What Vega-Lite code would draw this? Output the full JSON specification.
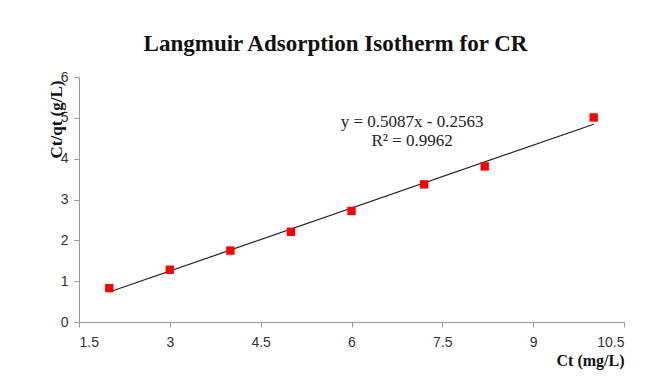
{
  "$schema": "https://vega.github.io/schema/vega-lite/v6.json",
  "autosize": "none",
  "width": 545,
  "height": 245,
  "padding": {"left": 79, "top": 77, "right": 36, "bottom": 56},
  "background": "white",
  "config": {"view": {"stroke": null}},
  "title": {
    "text": "Langmuir Adsorption Isotherm for CR",
    "font": "Liberation Serif",
    "fontSize": 23,
    "fontWeight": "bold",
    "color": "#111",
    "anchor": "middle",
    "dx": -16,
    "offset": 14
  },
  "datasets": {
    "pts": [
      {"Ct": 2.0, "ratio": 0.83},
      {"Ct": 3.0, "ratio": 1.28},
      {"Ct": 4.0, "ratio": 1.75},
      {"Ct": 5.0, "ratio": 2.21},
      {"Ct": 6.0, "ratio": 2.72},
      {"Ct": 7.2, "ratio": 3.37},
      {"Ct": 8.2, "ratio": 3.81},
      {"Ct": 10.0, "ratio": 5.01}
    ],
    "labels": [
      {"Ct": 7.0, "ratio": 4.89, "text": "y = 0.5087x - 0.2563"},
      {"Ct": 7.0, "ratio": 4.43, "text": "R² = 0.9962"}
    ]
  },
  "encoding": {
    "x": {
      "field": "Ct", "type": "quantitative",
      "scale": {"domain": [1.5, 10.5], "nice": false, "zero": false},
      "axis": {
        "title": "Ct (mg/L)",
        "values": [1.5, 3, 4.5, 6, 7.5, 9, 10.5],
        "format": ".1~f",
        "grid": false,
        "domainColor": "#999", "tickColor": "#999", "tickSize": 5,
        "labelFont": "Liberation Sans", "labelFontSize": 14, "labelColor": "#333",
        "labelPadding": 8,
        "titleFont": "Liberation Serif", "titleFontSize": 16, "titleFontWeight": "bold", "titleColor": "#111",
        "titleAnchor": null, "titleX": 511, "titleY": 38, "titleBaseline": "middle", "titleAlign": "center"
      }
    },
    "y": {
      "field": "ratio", "type": "quantitative",
      "scale": {"domain": [0, 6], "nice": false},
      "axis": {
        "title": "Ct/qt (g/L)",
        "values": [0, 1, 2, 3, 4, 5, 6],
        "grid": false,
        "domainColor": "#999", "tickColor": "#999", "tickSize": 5,
        "labelFont": "Liberation Sans", "labelFontSize": 14, "labelColor": "#333",
        "labelPadding": 6,
        "titleFont": "Liberation Serif", "titleFontSize": 17, "titleFontWeight": "bold", "titleColor": "#111",
        "titleAnchor": null, "titleAngle": -90, "titleX": -14, "titleY": 42, "titleBaseline": "bottom", "titleAlign": "center"
      }
    }
  },
  "layer": [
    {
      "data": {"name": "pts"},
      "transform": [{"regression": "ratio", "on": "Ct", "extent": [2, 10]}],
      "mark": {"type": "line", "color": "#222", "strokeWidth": 1.2}
    },
    {
      "data": {"name": "pts"},
      "mark": {"type": "square", "color": "#ff0000", "opacity": 1, "size": 70}
    },
    {
      "data": {"name": "labels"},
      "mark": {"type": "text", "font": "Liberation Serif", "fontSize": 17, "color": "#222", "align": "center", "baseline": "middle"},
      "encoding": {"text": {"field": "text"}}
    }
  ]
}
